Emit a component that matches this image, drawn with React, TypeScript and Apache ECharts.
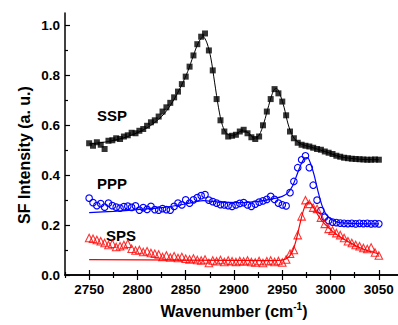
import React, { useEffect, useRef } from "react";
import * as echarts from "echarts";

const WAVENUMBERS = [
  2750, 2754, 2758, 2762, 2766, 2770, 2774, 2778, 2782, 2786, 2790, 2794, 2798, 2802, 2806, 2810,
  2814, 2818, 2822, 2826, 2830, 2834, 2838, 2842, 2846, 2850, 2854, 2858, 2862, 2866, 2870, 2874,
  2878, 2882, 2886, 2890, 2894, 2898, 2902, 2906, 2910, 2914, 2918, 2922, 2926, 2930, 2934, 2938,
  2942, 2946, 2950, 2954, 2958, 2962, 2966, 2970, 2974, 2978, 2982, 2986, 2990, 2994, 2998, 3002,
  3006, 3010, 3014, 3018, 3022, 3026, 3030, 3034, 3038, 3042, 3046, 3050,
];

const SSP = [
  0.528, 0.518, 0.532, 0.522, 0.505, 0.538, 0.54, 0.548, 0.545, 0.555, 0.56, 0.57, 0.568, 0.578, 0.585, 0.598,
  0.612, 0.62, 0.635, 0.655, 0.672, 0.69, 0.712, 0.735, 0.765, 0.795, 0.835, 0.88, 0.925, 0.955, 0.968, 0.9,
  0.82, 0.705, 0.62, 0.575, 0.555, 0.558, 0.562, 0.575, 0.582, 0.568, 0.552, 0.545, 0.555, 0.6, 0.655, 0.705,
  0.745, 0.728, 0.695, 0.64, 0.575, 0.548, 0.53, 0.522, 0.518, 0.515, 0.51, 0.505, 0.502, 0.495, 0.49, 0.485,
  0.478, 0.474, 0.47, 0.468, 0.466, 0.465, 0.464, 0.463, 0.462, 0.462, 0.463, 0.462,
];

const PPP = [
  0.308, 0.29, 0.278, 0.286, 0.272, 0.288, 0.278, 0.272, 0.268, 0.274, 0.276, 0.271, 0.277, 0.26, 0.27, 0.263,
  0.275, 0.262, 0.26, 0.266, 0.262, 0.26, 0.275, 0.288, 0.281, 0.301, 0.288, 0.301, 0.31, 0.318, 0.322, 0.3,
  0.294, 0.288, 0.282, 0.281, 0.278, 0.275, 0.281, 0.287, 0.29, 0.281, 0.275, 0.284, 0.292, 0.297, 0.303, 0.315,
  0.303, 0.288, 0.281, 0.277, 0.33, 0.375, 0.43, 0.462, 0.478, 0.43, 0.36, 0.3, 0.258, 0.232, 0.218, 0.212,
  0.21, 0.208, 0.207, 0.206, 0.207, 0.205, 0.207, 0.206, 0.207, 0.205, 0.206, 0.205,
];

const SPS = [
  0.148, 0.145, 0.14, 0.135, 0.128, 0.12, 0.125, 0.112, 0.115, 0.12, 0.125, 0.105, 0.098, 0.1, 0.092, 0.095,
  0.088, 0.085, 0.082, 0.072, 0.078, 0.07, 0.075, 0.068, 0.072, 0.065, 0.062, 0.066, 0.06, 0.058, 0.062, 0.048,
  0.058, 0.055, 0.06, 0.052, 0.058, 0.055, 0.052, 0.056, 0.054, 0.058, 0.052, 0.05, 0.056, 0.048, 0.055, 0.058,
  0.052, 0.056, 0.05, 0.062, 0.085, 0.1, 0.16, 0.235, 0.3, 0.285, 0.27, 0.265, 0.23, 0.205, 0.185, 0.178,
  0.168, 0.16, 0.148, 0.135, 0.128, 0.12, 0.115, 0.108, 0.104, 0.11, 0.09, 0.078,
];

const SSP_FIT_X = [2750, 2770, 2790, 2810, 2825, 2835, 2845, 2852, 2858, 2863, 2868, 2872, 2876, 2880, 2884, 2888, 2893, 2900, 2908, 2915, 2921, 2926, 2931, 2936, 2941, 2944, 2948, 2952, 2956, 2961, 2968, 2980, 2995, 3010, 3030, 3050];
const SSP_FIT_Y = [0.525, 0.535, 0.555, 0.59, 0.635, 0.685, 0.755, 0.815, 0.88, 0.93, 0.955, 0.93, 0.87, 0.77, 0.67, 0.6, 0.565, 0.56, 0.578, 0.57, 0.548, 0.56, 0.61, 0.68, 0.74, 0.748, 0.72, 0.67, 0.605, 0.555, 0.528, 0.512, 0.494, 0.474, 0.464, 0.462];

const PPP_FIT_X = [2750, 2775, 2800, 2825, 2850, 2868, 2885, 2905, 2925, 2940, 2950, 2956, 2961, 2965, 2969, 2973, 2976, 2979, 2983, 2987, 2991, 2995, 3000, 3007, 3020, 3050];
const PPP_FIT_Y = [0.25, 0.255, 0.262, 0.27, 0.285, 0.298, 0.292, 0.29, 0.295, 0.305, 0.315, 0.33, 0.36, 0.4, 0.44, 0.468, 0.47, 0.45, 0.4, 0.335, 0.28, 0.245, 0.225, 0.212, 0.207, 0.205];

const SPS_FIT_X = [2750, 2850, 2940, 2950, 2956, 2960, 2964, 2968, 2972, 2976, 2980, 2984, 2990, 3000, 3010, 3020, 3030, 3040, 3050];
const SPS_FIT_Y = [0.062, 0.06, 0.058, 0.06, 0.07, 0.09, 0.135, 0.2, 0.26, 0.29, 0.285, 0.26, 0.222, 0.182, 0.152, 0.13, 0.11, 0.095, 0.085];

const X_TICKS = [2750, 2800, 2850, 2900, 2950, 3000, 3050];
const X_MINOR = [2725, 2775, 2825, 2875, 2925, 2975, 3025];
const Y_TICKS = [0, 0.2, 0.4, 0.6, 0.8, 1.0];
const Y_MINOR = [0.1, 0.3, 0.5, 0.7, 0.9];

const FONT = "'Liberation Sans', Arial, Helvetica, sans-serif";

function pairs(xs: number[], ys: number[]) {
  return xs.map((x, i) => [x, ys[i]]);
}

export default function App() {
  const ref = useRef<HTMLDivElement>(null);
  useEffect(() => {
    if (!ref.current) return;
    const chart = echarts.init(ref.current, null, { renderer: "svg" });
    const axisLine = { show: true, lineStyle: { color: "#000", width: 1.5 } };
    const xBase = { type: "value", min: 2725, max: 3075, splitLine: { show: false }, gridIndex: 0 };
    const yBase = { type: "value", min: 0, max: 1.05, splitLine: { show: false }, gridIndex: 0 };
    const labelStyle = { color: "#000", fontWeight: "bold", fontSize: 13.5, fontFamily: FONT };
    chart.setOption({
      animation: false,
      backgroundColor: "#fff",
      grid: { left: 65, right: 7, top: 13, bottom: 50 },
      xAxis: [
        {
          ...xBase, position: "bottom", axisLine,
          axisTick: { show: true, inside: true, length: 5, customValues: X_TICKS, lineStyle: { color: "#000", width: 1.2 } },
          axisLabel: { show: true, customValues: X_TICKS, margin: 7, formatter: (v: number) => String(v), ...labelStyle },
        },
        {
          ...xBase, position: "bottom", axisLine: { show: false },
          axisTick: { show: true, inside: true, length: 3, customValues: X_MINOR, lineStyle: { color: "#000", width: 1.2 } },
          axisLabel: { show: false },
        },
        {
          ...xBase, position: "top", axisLine,
          axisTick: { show: true, inside: true, length: 5, customValues: X_TICKS, lineStyle: { color: "#000", width: 1.2 } },
          axisLabel: { show: false },
        },
        {
          ...xBase, position: "top", axisLine: { show: false },
          axisTick: { show: true, inside: true, length: 3, customValues: X_MINOR, lineStyle: { color: "#000", width: 1.2 } },
          axisLabel: { show: false },
        },
      ],
      yAxis: [
        {
          ...yBase, position: "left", axisLine,
          axisTick: { show: true, inside: true, length: 5, customValues: Y_TICKS, lineStyle: { color: "#000", width: 1.2 } },
          axisLabel: { show: true, customValues: Y_TICKS, margin: 5, formatter: (v: number) => v.toFixed(1), ...labelStyle },
        },
        {
          ...yBase, position: "left", axisLine: { show: false },
          axisTick: { show: true, inside: true, length: 3, customValues: Y_MINOR, lineStyle: { color: "#000", width: 1.2 } },
          axisLabel: { show: false },
        },
        {
          ...yBase, position: "right", axisLine,
          axisTick: { show: true, inside: true, length: 5, customValues: Y_TICKS, lineStyle: { color: "#000", width: 1.2 } },
          axisLabel: { show: false },
        },
        {
          ...yBase, position: "right", axisLine: { show: false },
          axisTick: { show: true, inside: true, length: 3, customValues: Y_MINOR, lineStyle: { color: "#000", width: 1.2 } },
          axisLabel: { show: false },
        },
      ],
      series: [
        {
          type: "scatter", name: "SSP", data: pairs(WAVENUMBERS, SSP), symbol: "rect", symbolSize: 6,
          itemStyle: { color: "#000" }, z: 3,
        },
        {
          type: "line", name: "SSP fit", data: pairs(SSP_FIT_X, SSP_FIT_Y), showSymbol: false, smooth: 0.3,
          lineStyle: { color: "#000", width: 1 }, z: 4,
        },
        {
          type: "scatter", name: "PPP", data: pairs(WAVENUMBERS, PPP), symbol: "circle", symbolSize: 6.5,
          itemStyle: { color: "rgba(255,255,255,0)", borderColor: "#0000ff", borderWidth: 1.1, opacity: 1 }, z: 3,
        },
        {
          type: "line", name: "PPP fit", data: pairs(PPP_FIT_X, PPP_FIT_Y), showSymbol: false, smooth: 0.3,
          lineStyle: { color: "#0000ff", width: 1.2 }, z: 4,
        },
        {
          type: "scatter", name: "SPS", data: pairs(WAVENUMBERS, SPS), symbol: "triangle", symbolSize: 7.5,
          itemStyle: { color: "rgba(255,255,255,0)", borderColor: "#ff0000", borderWidth: 1.1 }, z: 3,
        },
        {
          type: "line", name: "SPS fit", data: pairs(SPS_FIT_X, SPS_FIT_Y), showSymbol: false, smooth: 0.3,
          lineStyle: { color: "#ff0000", width: 1.2 }, z: 4,
        },
      ],
      graphic: [
        {
          type: "text", x: 24, y: 155, rotation: Math.PI / 2,
          style: {
            text: "SF Intensity (a. u.)", align: "center", verticalAlign: "middle",
            fill: "#000", font: `bold 16px ${FONT}`,
          },
        },
        {
          type: "text", x: 234, y: 311,
          style: {
            text: "Wavenumber (cm{sup|-1})", align: "center", verticalAlign: "middle",
            fill: "#000", font: `bold 16px ${FONT}`, lineHeight: 20,
            rich: { sup: { fontSize: 10, fontWeight: "bold", fontFamily: FONT, fill: "#000", verticalAlign: "top", lineHeight: 20 } },
          },
        },
        {
          type: "text", x: 112, y: 115,
          style: { text: "SSP", align: "center", verticalAlign: "middle", fill: "#000", font: `bold 15px ${FONT}` },
        },
        {
          type: "text", x: 112, y: 183,
          style: { text: "PPP", align: "center", verticalAlign: "middle", fill: "#000", font: `bold 15px ${FONT}` },
        },
        {
          type: "text", x: 121, y: 235,
          style: { text: "SPS", align: "center", verticalAlign: "middle", fill: "#000", font: `bold 15px ${FONT}` },
        },
      ],
    });
    return () => chart.dispose();
  }, []);
  return (
    <div style={{ position: "fixed", left: 0, top: 0, width: 398, height: 325, overflow: "hidden", background: "#fff" }}>
      <div ref={ref} style={{ width: 410, height: 325 }} />
    </div>
  );
}
